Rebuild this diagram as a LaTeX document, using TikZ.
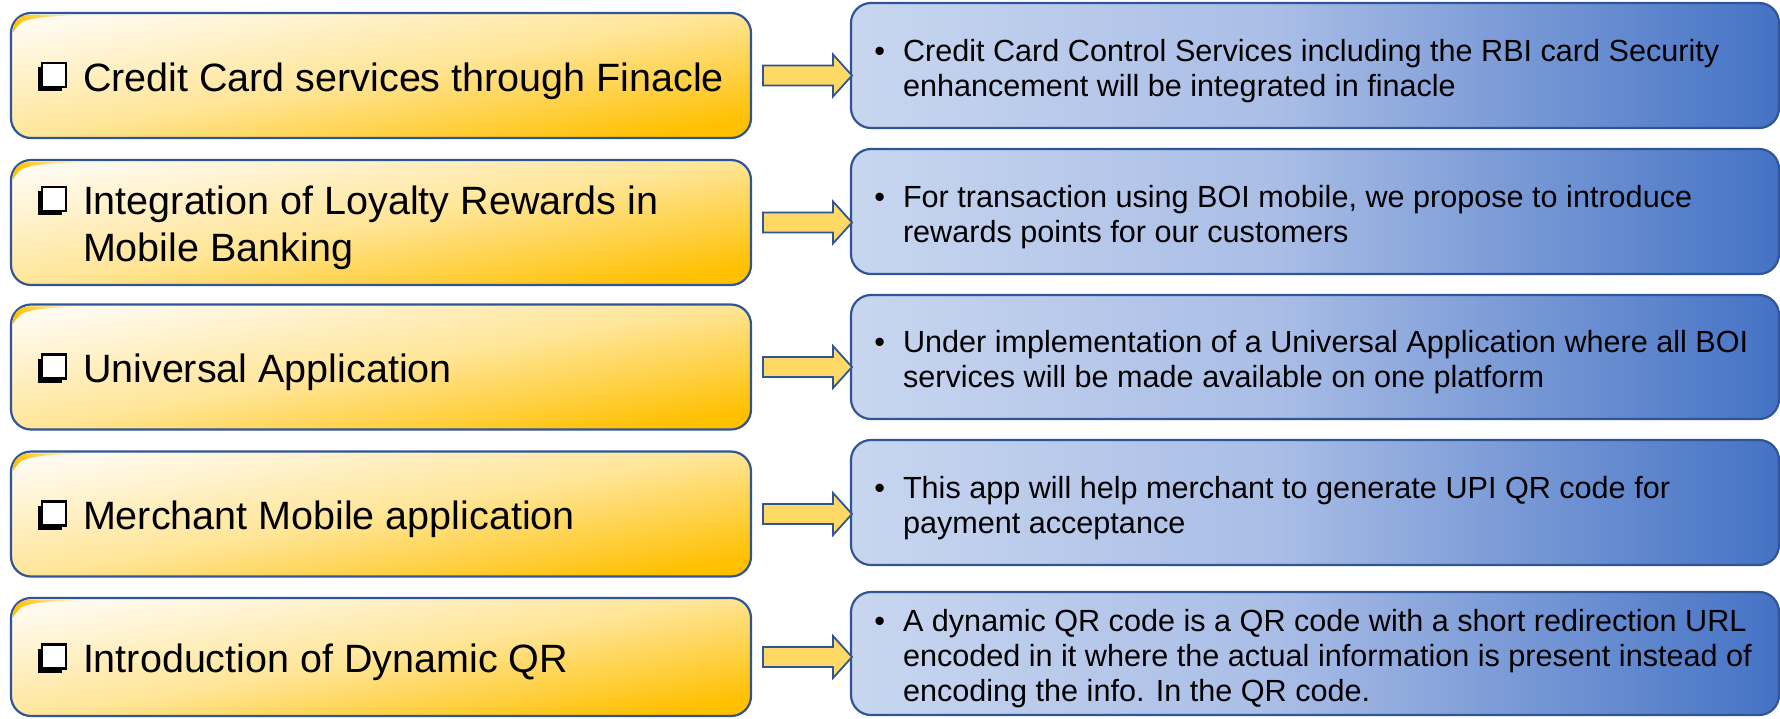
\documentclass[tikz,border=0pt]{standalone}
\usepackage{fontspec}
\setmainfont{Liberation Sans}
\usetikzlibrary{calc,fadings,shadows}
\definecolor{bordc}{HTML}{2F5597}
\definecolor{goldA}{HTML}{FFC000}
\definecolor{goldL}{HTML}{FFFAEE}
\definecolor{goldM}{HTML}{FFE597}
\definecolor{arrowc}{HTML}{FFD966}
\definecolor{blueL}{HTML}{C8D6EF}
\definecolor{blueM}{HTML}{A9BDE6}
\definecolor{blueD}{HTML}{4472C4}
\pgfdeclarehorizontalshading{bluesh}{100bp}{color(0bp)=(blueL); color(25bp)=(blueL); color(48bp)=(blueM); color(75bp)=(blueD); color(100bp)=(blueD)}
\newcommand\goldshine[1]{%
  \begin{scope}[shift={(#1.north west)}]
    \fill[goldA, path fading=east] (1.8,20) .. controls (1.8,8) and (8,1.8) .. (20,1.8) -- (75,1.8)
      .. controls (45,3) and (22,4) .. (11,9) .. controls (7,12) and (4,16) .. cycle;
  \end{scope}}
\begin{document}
\begin{tikzpicture}[x=0.5pt,y=-0.5pt,
  lbox/.style={draw=bordc, line width=1.1pt, rounded corners=10pt, top color=goldL, bottom color=goldA, middle color=goldM, shading angle=10, minimum width=370pt, minimum height=62.5pt, inner sep=0pt, outer sep=0pt},
  rbox/.style={draw=bordc, line width=1.1pt, rounded corners=10pt, shading=bluesh, minimum width=464pt, minimum height=62.5pt, inner sep=0pt, outer sep=0pt},
  ltext/.style={align=left, font=\fontsize{19.75}{23.5}\selectfont, inner sep=0pt, outer sep=0pt},
  rtext/.style={anchor=west, align=left, font=\fontsize{15.3}{17.5}\selectfont, inner sep=0pt, outer sep=0pt},
  chk/.style={draw=black, line width=1.4pt, fill=white, minimum size=12pt, inner sep=0pt, outer sep=0pt, drop shadow={shadow xshift=-2pt, shadow yshift=-2pt, fill=black, opacity=1}},
  blockarrow/.style={draw=bordc, line width=0.9pt, fill=arrowc, line join=miter}
]
\useasboundingbox (0,0) rectangle (1780,718);

% left boxes
\node[lbox] (L1) at (381,75.5) {};
\node[lbox] (L2) at (381,222.5) {};
\node[lbox] (L3) at (381,367) {};
\node[lbox] (L4) at (381,514) {};
\node[lbox, minimum height=59pt] (L5) at (381,657) {};
\goldshine{L1}\goldshine{L2}\goldshine{L3}\goldshine{L4}\goldshine{L5}

% right boxes
\node[rbox] (R1) at (1315,65.5) {};
\node[rbox] (R2) at (1315,211.5) {};
\node[rbox, minimum height=62pt] (R3) at (1315,357) {};
\node[rbox] (R4) at (1315,502.5) {};
\node[rbox, minimum height=61.5pt] (R5) at (1315,653.5) {};

% checkboxes
\node[chk] (C1) at (54,75) {};
\node[chk] (C2) at (54,199) {};
\node[chk] (C3) at (54,366.5) {};
\node[chk] (C4) at (54,513.5) {};
\node[chk] (C5) at (54,656.5) {};

% left texts
\node[ltext, anchor=base west] (LT1) at (83,91) {Credit Card services through Finacle};
\node[ltext, anchor=west] (LT2) at (83,228) {Integration of Loyalty Rewards in\\Mobile Banking};
\node[ltext, anchor=base west] (LT3) at (83,382.5) {Universal Application};
\node[ltext, anchor=base west] (LT4) at (83,529.5) {Merchant Mobile application};
\node[ltext, anchor=base west] (LT5) at (83,672.5) {Introduction of Dynamic QR};

% right texts
\node[rtext] (RT1) at (903,71) {\llap{\textbullet\hspace{9pt}}Credit Card Control Services including the RBI card Security\\enhancement will be integrated in finacle};
\node[rtext] (RT2) at (903,217) {\llap{\textbullet\hspace{9pt}}For transaction using BOI mobile, we propose to introduce\\rewards points for our customers};
\node[rtext] (RT3) at (903,362.5) {\llap{\textbullet\hspace{9pt}}Under implementation of a Universal Application where all BOI\\services will be made available on one platform};
\node[rtext] (RT4) at (903,508) {\llap{\textbullet\hspace{9pt}}This app will help merchant to generate UPI QR code for\\payment acceptance};
\node[rtext] (RT5) at (903,659) {\llap{\textbullet\hspace{9pt}}A dynamic QR code is a QR code with a short redirection URL\\encoded in it where the actual information is present instead of\\encoding the info. In the QR code.};

% block arrows
\foreach \i in {1,...,5}{
  \draw[blockarrow] ($(L\i.east)+(12,-10)$) -- ($(L\i.east)+(82,-10)$) -- ($(L\i.east)+(82,-21)$)
     -- ($(L\i.east)+(101,0)$) -- ($(L\i.east)+(82,21)$) -- ($(L\i.east)+(82,10)$) -- ($(L\i.east)+(12,10)$) -- cycle;
}
\end{tikzpicture}
\end{document}
